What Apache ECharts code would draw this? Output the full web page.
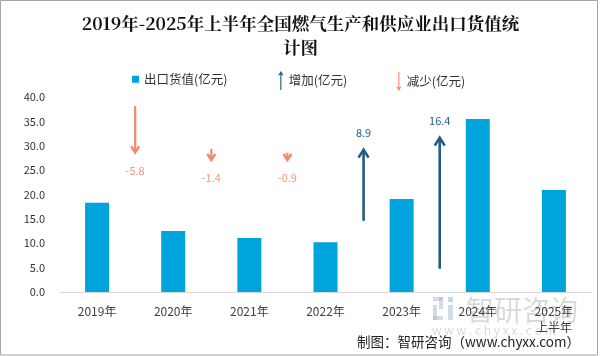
<!DOCTYPE html>
<html><head><meta charset="utf-8">
<script src="https://cdn.jsdelivr.net/npm/echarts@6/dist/echarts.min.js"></script>
<style>html,body{margin:0;padding:0;background:#fff}#c{width:601px;height:356px}</style>
</head><body><div id="c"></div>
<script>
const categories = ['2019年','2020年','2021年','2022年','2023年','2024年','2025年\n上半年'];
const exportValues = [18.3,12.5,11.1,10.2,19.1,35.5,20.9];
const yTicks = [0,5,10,15,20,25,30,35,40];
// arrows sit between category i and i+1; base = tail position on the hidden arrow axis
const increaseGap = [3,4];
const increaseBase = [8.9,2.9];
const increaseChange = [8.9,16.4];
const decreaseGap = [0,1,2];
const decreaseBase = [23.25,17.9,17.4];
const decreaseChange = [-5.8,-1.4,-0.9];

const UP = '#1F5E80', DOWN = '#F08B72', UPTXT = '#1F5E8A', DOWNTXT = '#F2967C';
const FONT = '"Noto Sans CJK SC","Noto Sans",sans-serif';

function makeArrow(up) {
  return function(params, api) {
    const g = api.value(0), base = api.value(1), ch = api.value(2);
    const a = api.coord([g, base]), b = api.coord([g + 1, base]);
    const x = (a[0] + b[0]) / 2;
    const yTail = a[1];
    const yTip = api.coord([g, base + ch])[1];
    const hw = up ? 5 : 4, hh = up ? 8 : 6;
    const dir = up ? 1 : -1;
    const color = up ? UP : DOWN;
    const label = ch.toFixed(1);
    return {
      type: 'group',
      children: [
        {type:'line', shape:{x1:x,y1:yTail,x2:x,y2:yTip + (up? 1 : -1)}, style:{stroke:color,lineWidth:up?2.6:2.2}},
        {type:'polyline', shape:{points:[[x-hw,yTip+dir*hh],[x,yTip],[x+hw,yTip+dir*hh]]}, style:{stroke:color,lineWidth:2.6,fill:null}},
        {type:'text', style:{text:label, x:x, y: up ? yTip-17 : yTip+18, align:'center', verticalAlign:'middle', fill: up?UPTXT:DOWNTXT, font:'11px '+FONT}}
      ]
    };
  };
}

const chart = echarts.init(document.getElementById('c'));
chart.setOption({
  animation:false,
  backgroundColor:'#fff',
  title:{text:'2019年-2025年上半年全国燃气生产和供应业出口货值统\n计图', left:'center', top:6,
    textStyle:{fontSize:17.5, fontWeight:'bold', color:'#111', lineHeight:24, fontFamily:'"Noto Serif CJK SC","Noto Sans CJK SC",serif'}},
  legend:[
    {data:['出口货值(亿元)'], left:127, top:68, itemWidth:7, itemHeight:7, itemGap:5, icon:'rect', textStyle:{fontSize:12.5,color:'#333',fontFamily:FONT}},
    {data:[{name:'增加(亿元)', icon:'path://M3,0 L6,5 L3.6,4 L3.6,20 L2.4,20 L2.4,4 L0,5 Z', itemStyle:{color:UP}}], left:273, top:66, itemWidth:6, itemHeight:19, textStyle:{fontSize:12.5,color:'#333',fontFamily:FONT}},
    {data:[{name:'减少(亿元)', icon:'path://M2.4,0 L3.6,0 L3.6,16 L6,15 L3,20 L0,15 L2.4,16 Z', itemStyle:{color:DOWN}}], left:391, top:67, itemWidth:6, itemHeight:19, textStyle:{fontSize:12.5,color:'#333',fontFamily:FONT}}
  ],
  grid:{left:59, right:9, top:97, bottom:64},
  xAxis:{type:'category', data:categories,
    axisLine:{lineStyle:{color:'#D9D9D9'}}, axisTick:{show:false},
    axisLabel:{color:'#404040', fontSize:12, fontFamily:FONT, margin:11, lineHeight:16}},
  yAxis:[
    {type:'value', min:yTicks[0], max:yTicks[yTicks.length-1], interval:5,
     axisLine:{show:false}, axisTick:{show:false}, splitLine:{show:false},
     axisLabel:{color:'#333', fontSize:11, fontFamily:FONT, margin:14, formatter:v=>v.toFixed(1)}},
    {type:'value', min:0, max:24.375, show:false, splitLine:{show:false}}
  ],
  series:[
    {name:'出口货值(亿元)', type:'bar', data:exportValues, barWidth:24, itemStyle:{color:'#00A4DC'}},
    {name:'增加(亿元)', type:'custom', yAxisIndex:1, itemStyle:{color:UP},
     renderItem:makeArrow(true), encode:{x:0,y:1},
     data:increaseGap.map((g,i)=>[g,increaseBase[i],increaseChange[i]])},
    {name:'减少(亿元)', type:'custom', yAxisIndex:1, itemStyle:{color:DOWN},
     renderItem:makeArrow(false), encode:{x:0,y:1},
     data:decreaseGap.map((g,i)=>[g,decreaseBase[i],decreaseChange[i]])}
  ],
  graphic:[
    {type:'group', z:-1, silent:true, children:[
      {type:'rect', shape:{x:433,y:297,width:10,height:4}, style:{fill:'rgba(160,176,205,0.45)'}},
      {type:'rect', shape:{x:439,y:297,width:4,height:12}, style:{fill:'rgba(160,176,205,0.45)'}},
      {type:'rect', shape:{x:433,y:305,width:4,height:15}, style:{fill:'rgba(160,176,205,0.45)'}},
      {type:'rect', shape:{x:433,y:316,width:10,height:4}, style:{fill:'rgba(160,176,205,0.45)'}},
      {type:'rect', shape:{x:448,y:297,width:5,height:5}, style:{fill:'rgba(110,170,220,0.45)'}},
      {type:'rect', shape:{x:448,y:305,width:5,height:15}, style:{fill:'rgba(160,176,205,0.45)'}},
      {type:'text', style:{text:'智研咨询', x:466, y:296, fill:'rgba(160,160,160,0.4)', font:'28px '+FONT}},
      {type:'text', style:{text:'w w w . c h y x x . c o m', x:432, y:324, fill:'rgba(170,170,170,0.45)', font:'12px '+FONT}}
    ]},
    {type:'text', right:21, top:335, style:{text:'制图：智研咨询（www.chyxx.com）', fill:'#222', font:'13.5px '+FONT}},
    {type:'rect', silent:true, shape:{x:0.5,y:0.5,width:597,height:354.5}, style:{fill:null, stroke:'#A6A6A6', lineWidth:1}}
  ]
});
</script></body></html>
